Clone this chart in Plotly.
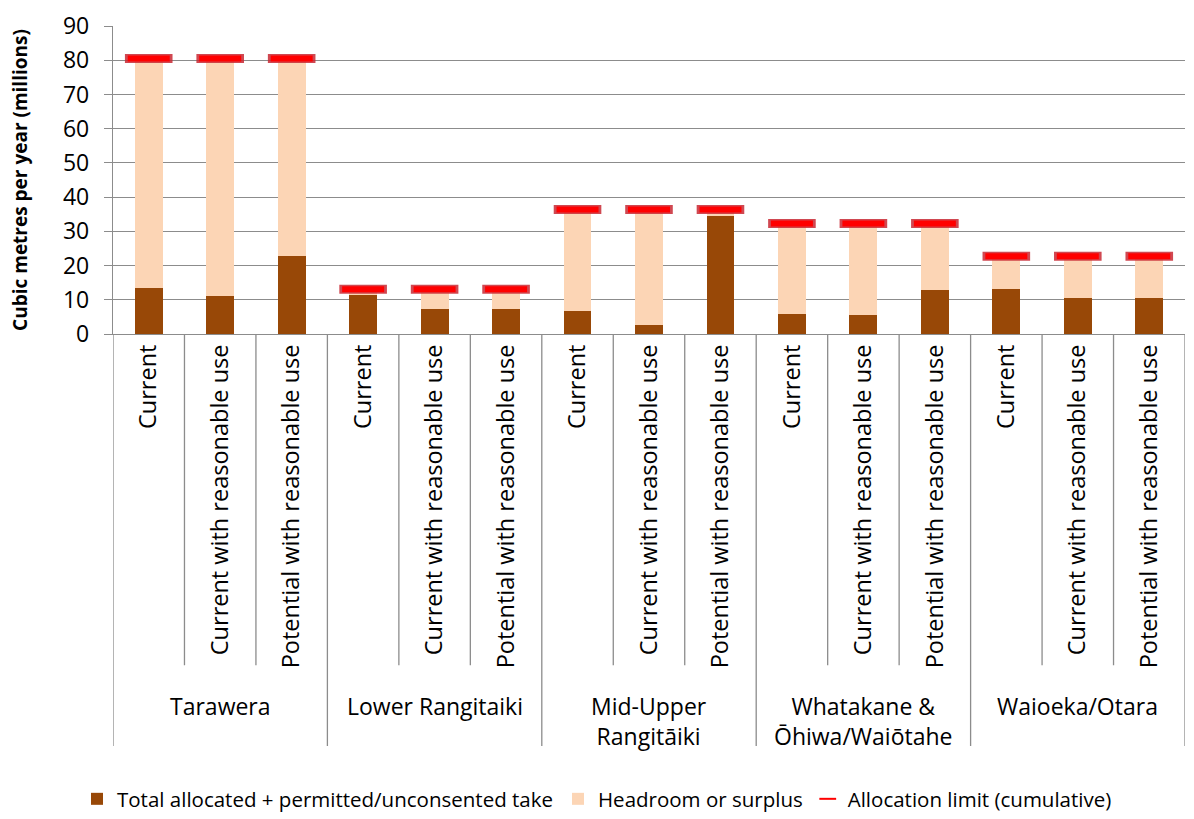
import plotly.graph_objects as go

groups = ["Tarawera", "Lower Rangitaiki", "Mid-Upper<br>Rangitāiki",
          "Whatakane &<br>Ōhiwa/Waiōtahe", "Waioeka/Otara"]
scenarios = ["Current", "Current with reasonable use", "Potential with reasonable use"]

allocated = [13.4, 11.1, 22.8,
             11.4, 7.3, 7.3,
             6.6, 2.5, 34.5,
             5.9, 5.5, 12.9,
             13.2, 10.5, 10.5]
headroom = [67.1, 69.4, 57.7,
            1.7, 5.8, 5.8,
            29.8, 33.9, 1.9,
            26.4, 26.8, 19.4,
            9.5, 12.2, 12.2]
limit = [80.5, 80.5, 80.5,
         13.1, 13.1, 13.1,
         36.4, 36.4, 36.4,
         32.3, 32.3, 32.3,
         22.7, 22.7, 22.7]

FONT = "Open Sans"
n_s = len(scenarios)
n = len(groups) * n_s
xs = list(range(n))
ticktext = [scenarios[i % n_s] for i in xs]

fig = go.Figure()
fig.add_trace(go.Bar(x=xs, y=allocated, name="Total allocated + permitted/unconsented take",
                     marker=dict(color="#984807", line=dict(width=0)), width=0.39))
fig.add_trace(go.Bar(x=xs, y=headroom, name="Headroom or surplus",
                     marker=dict(color="#FCD5B5", line=dict(width=0)), width=0.39))
fig.add_trace(go.Scatter(x=xs, y=limit, mode="markers", showlegend=False, hoverinfo="skip",
                         marker=dict(symbol="line-ew", size=34,
                                     line=dict(color="rgba(200,40,50,0.85)", width=9))))
fig.add_trace(go.Scatter(x=xs, y=limit, mode="markers", name="Allocation limit (cumulative)",
                         marker=dict(symbol="line-ew", size=30,
                                     line=dict(color="#FF0000", width=6))))

grid = "#8c8c8c"
shapes = []
H = 317.0
y_inner = -(675 - 334) / H
y_outer = -(758 - 334) / H
for b in range(n + 1):
    xb = b - 0.5
    outer = (b % n_s == 0)
    shapes.append(dict(type="line", xref="x", yref="paper", x0=xb, x1=xb,
                       y0=0, y1=y_outer if outer else y_inner,
                       line=dict(color=grid, width=1.3)))

annotations = []
for g, name in enumerate(groups):
    cx = g * n_s + (n_s - 1) / 2
    annotations.append(dict(x=cx, xref="x", y=-(698 - 334) / H, yref="paper",
                            text=name, showarrow=False, yanchor="top",
                            font=dict(family=FONT, size=23, color="#000")))

fig.update_layout(
    width=1194, height=819,
    margin=dict(l=113, r=9, t=17, b=485),
    plot_bgcolor="white", paper_bgcolor="white",
    barmode="stack",
    font=dict(family=FONT, color="#000"),
    showlegend=True,
    legend=dict(orientation="h", x=0.5, xref="container", xanchor="center",
                y=0.0, yref="container", yanchor="bottom",
                font=dict(family=FONT, size=20.5), itemsizing="constant",
                traceorder="normal", itemwidth=30, tracegroupgap=0),
    shapes=shapes,
    annotations=annotations,
    xaxis=dict(range=[-0.5, n - 0.5], tickmode="array", tickvals=xs, ticktext=ticktext,
               tickangle=-90, ticks="", showgrid=False, showline=True,
               linecolor=grid, linewidth=1.3, zeroline=False,
               tickfont=dict(family=FONT, size=23.5, color="#000")),
    yaxis=dict(range=[0, 90], dtick=10, showgrid=True, gridcolor=grid, gridwidth=1.3,
               showline=True, linecolor=grid, linewidth=1.3, ticks="outside",
               ticklen=8, tickcolor=grid, zeroline=False, ticklabelstandoff=10,
               tickfont=dict(family=FONT, size=23, color="#000"),
               title=dict(text="<b>Cubic metres per year (millions)</b>",
                          font=dict(family=FONT, size=19, color="#000"), standoff=30)),
)

fig.write_html("out.html")
